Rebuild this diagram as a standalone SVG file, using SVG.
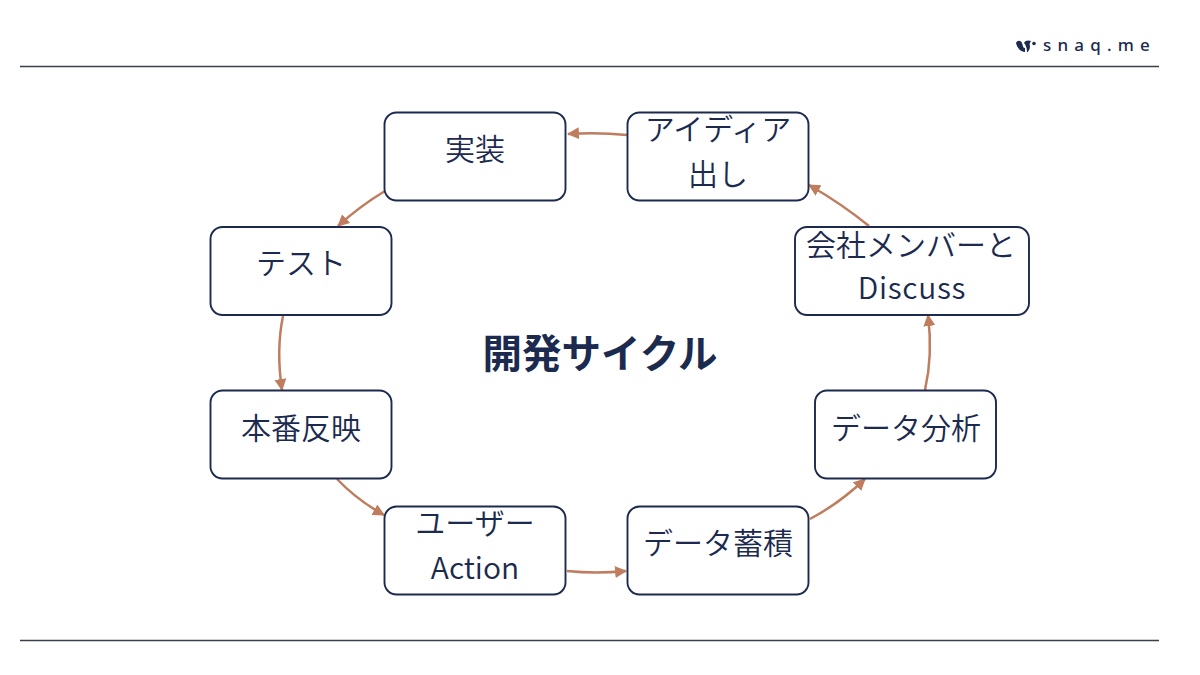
<svg xmlns="http://www.w3.org/2000/svg" width="1200" height="675" viewBox="0 0 1200 675">
<style>
text{font-family:"Noto Sans CJK JP","Noto Sans",sans-serif;fill:#1b2a4e;text-anchor:middle}
.n rect{fill:#fff;stroke:#1b2a4e;stroke-width:1.9}
.n text{font-size:30px;font-weight:350}
.rule{stroke:#3a3f4c;stroke-width:1.3}
#connectors path{fill:none;stroke:#bf7d5e;stroke-width:2.5;marker-end:url(#ah)}
</style>
<defs>
<marker id="ah" markerUnits="userSpaceOnUse" markerWidth="13" markerHeight="13" refX="11" refY="6" orient="auto">
<path d="M0 0L12 6L0 12Z" fill="#bf7d5e"/>
</marker>
</defs>
<rect width="1200" height="675" fill="#fff"/>
<line class="rule" x1="20" y1="66.500" x2="1159" y2="66.500"/>
<line class="rule" x1="20" y1="640.500" x2="1159" y2="640.500"/>
<!-- logo mark and wordmark -->
<g id="logo">
<path d="M1016 43C1017 40 1021 40 1022 43C1023 46 1023 48 1025 48L1025 52C1021 52 1017 48 1016 43Z" fill="#1b2a4e"/>
<path d="M1024 43C1025 40 1029 40 1031 41C1030 43 1029 44 1030 46C1030 49 1029 51 1027 52.500C1027 49 1026 45 1024 43Z" fill="#1b2a4e"/>
<circle cx="1034" cy="43.500" r="1.800" fill="#1b2a4e"/>
<text x="1043" y="51" font-size="17" font-weight="500" letter-spacing="6.200" style="font-family:'Noto Sans',sans-serif;text-anchor:start">snaq.me</text>
</g>
<text id="title" x="600" y="368" font-size="39.500" font-weight="700">開発サイクル</text>
<g id="connectors">
<path d="M627 135Q598 132 568 134"/>
<path d="M385 191Q360 206 338 226"/>
<path d="M283 316Q276 350 282 390"/>
<path d="M337 479Q357 500 384 515"/>
<path d="M567 571Q596 574 626 571"/>
<path d="M810 519Q840 503 865 479"/>
<path d="M925 390Q933 355 928 315"/>
<path d="M869 226Q842 204 809 185"/>
</g>
<g id="idea" class="n"><rect x="627.500" y="112.500" width="181" height="88" rx="12"/><text x="718" y="140">アイディア</text><text x="718" y="185">出し</text></g>
<g id="impl" class="n"><rect x="384.500" y="112.500" width="181" height="88" rx="12"/><text x="475" y="160">実装</text></g>
<g id="test" class="n"><rect x="210.500" y="227" width="181" height="88" rx="12"/><text x="301" y="274">テスト</text></g>
<g id="release" class="n"><rect x="210.500" y="390.500" width="181" height="88" rx="12"/><text x="301" y="438.500">本番反映</text></g>
<g id="action" class="n"><rect x="384.500" y="506.500" width="181" height="88" rx="12"/><text x="475" y="534">ユーザー</text><text x="475" y="579">Action</text></g>
<g id="store" class="n"><rect x="627.500" y="506.500" width="181" height="88" rx="12"/><text x="718" y="554">データ蓄積</text></g>
<g id="analysis" class="n"><rect x="815" y="390.500" width="181" height="88" rx="12"/><text x="906" y="438.500">データ分析</text></g>
<g id="discuss" class="n"><rect x="795" y="227" width="234" height="88" rx="12"/><text x="911" y="256">会社メンバーと</text><text x="912" y="299" letter-spacing="0.700">Discuss</text></g>
</svg>
